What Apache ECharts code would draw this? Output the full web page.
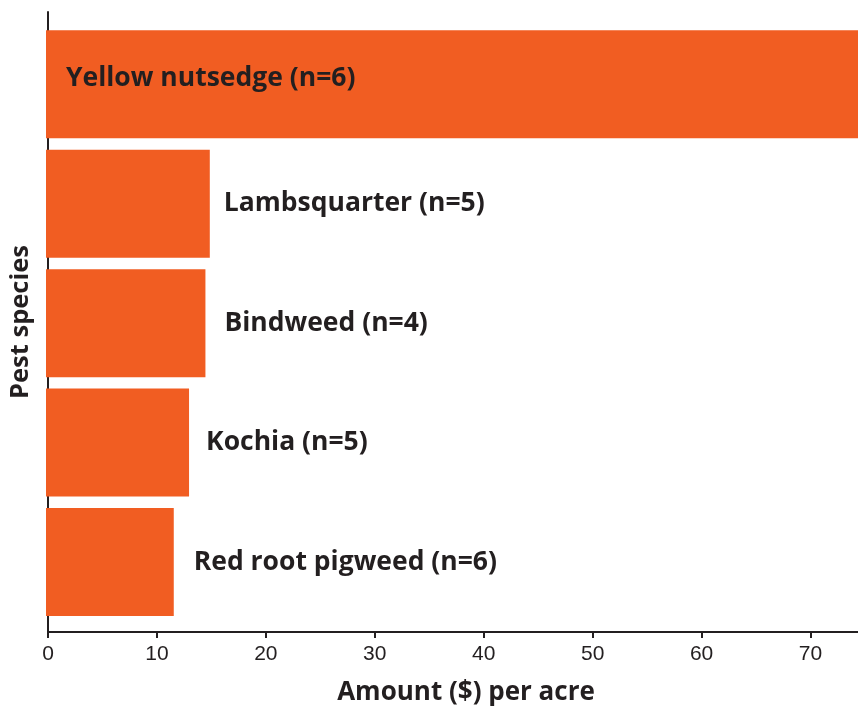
<!DOCTYPE html>
<html>
<head>
<meta charset="utf-8">
<script src="https://cdn.jsdelivr.net/npm/echarts@6/dist/echarts.min.js"></script>
<style>
  html, body { margin: 0; padding: 0; background: #fff; }
  #chart { width: 858px; height: 711px; }
</style>
</head>
<body>
<div id="chart"></div>
<script>
// Weed control cost per acre by pest species (top to bottom)
const categories = ['Yellow nutsedge', 'Lambsquarter', 'Bindweed', 'Kochia', 'Red root pigweed'];
const sampleSizes = [6, 5, 4, 5, 6];
const amounts = [80, 15.0, 14.6, 13.1, 11.7];
const xTicks = [0, 10, 20, 30, 40, 50, 60, 70];

const ORANGE = '#f15d22';
const INK = '#231f20';
const BOLD_FONT = '"Open Sans", Lato, sans-serif';
const TICK_FONT = '"Liberation Sans", Arial, sans-serif';
const X_MAX = 74.36;
// gap between each bar end and its label
const LABEL_GAPS = [20, 14, 19, 17, 20];

const chart = echarts.init(document.getElementById('chart'), null, { renderer: 'canvas' });

const seriesData = amounts.map((v, i) => {
  const item = { value: v, label: { distance: LABEL_GAPS[i] } };
  if (i === 0) {
    // widest bar carries its label inside
    item.label.position = 'insideLeft';
    item.label.offset = [0, -6];
  }
  return item;
});

chart.setOption({
  animation: false,
  backgroundColor: '#fff',
  grid: [
    // plotting area holding the bars
    { left: 46, right: 0, top: 24.5, bottom: 89.25, containLabel: false },
    // frame carrying the visible axes
    { left: 46, right: 0, top: 12, bottom: 78, containLabel: false }
  ],
  xAxis: [
    {
      gridIndex: 0,
      type: 'value',
      min: 0,
      max: X_MAX,
      show: false
    },
    {
      gridIndex: 1,
      type: 'value',
      min: 0,
      max: X_MAX,
      interval: 10,
      name: 'Amount ($) per acre',
      nameLocation: 'middle',
      nameGap: 48,
      nameTextStyle: { fontFamily: BOLD_FONT, fontWeight: 'bold', fontSize: 26, color: INK, padding: [0, 0, 0, 26] },
      axisLine: { show: true, onZero: false, lineStyle: { color: INK, width: 2 } },
      axisTick: { show: true, length: 6, lineStyle: { color: INK, width: 2 } },
      axisLabel: {
        margin: 12,
        fontFamily: TICK_FONT,
        fontSize: 21,
        color: INK,
        showMaxLabel: false,
        formatter: v => (xTicks.includes(v) ? String(v) : '')
      },
      splitLine: { show: false }
    }
  ],
  yAxis: [
    {
      gridIndex: 0,
      type: 'category',
      inverse: true,
      data: categories,
      show: false
    },
    {
      gridIndex: 1,
      type: 'value',
      min: 0,
      max: 1,
      name: 'Pest species',
      nameLocation: 'middle',
      nameGap: 14,
      nameRotate: 90,
      nameTextStyle: { fontFamily: BOLD_FONT, fontWeight: 'bold', fontSize: 25.5, color: INK },
      axisLine: { show: true, onZero: false, lineStyle: { color: INK, width: 2 } },
      axisTick: { show: false },
      axisLabel: { show: false },
      splitLine: { show: false }
    }
  ],
  series: [{
    type: 'bar',
    xAxisIndex: 0,
    yAxisIndex: 0,
    barWidth: 108,
    clip: true,
    itemStyle: { color: ORANGE },
    data: seriesData,
    label: {
      show: true,
      position: 'right',
      distance: 16,
      fontFamily: BOLD_FONT,
      fontWeight: 'bold',
      fontSize: 26.5,
      color: INK,
      formatter: p => categories[p.dataIndex] + ' (n=' + sampleSizes[p.dataIndex] + ')'
    }
  }]
});
</script>
</body>
</html>
